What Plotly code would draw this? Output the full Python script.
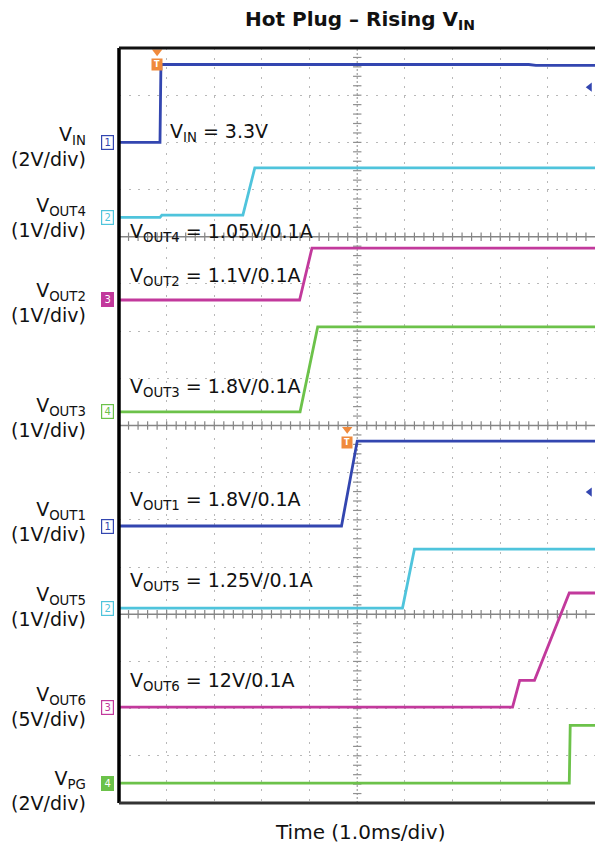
import plotly.graph_objects as go

# ---------------- data (time in ms, voltage in V) ----------------
vin_t = [0, 0.86, 0.88, 8.6, 8.75, 9.99]
vin_v = [0, 0, 3.3, 3.3, 3.26, 3.26]

vout4_t = [0, 0.86, 0.9, 2.6, 2.85, 9.99]
vout4_v = [0, 0, 0.05, 0.05, 1.05, 1.05]

vout2_t = [0, 3.79, 4.05, 9.99]
vout2_v = [0, 0, 1.1, 1.1]

vout3_t = [0, 3.8, 4.17, 9.99]
vout3_v = [0, 0, 1.8, 1.8]

vout1_t = [0, 4.67, 5.0, 9.99]
vout1_v = [0, 0, 1.8, 1.8]

vout5_t = [0, 5.95, 6.2, 9.99]
vout5_v = [0, 0, 1.25, 1.25]

vout6_t = [0, 8.26, 8.41, 8.72, 9.45, 9.99]
vout6_v = [0, 0, 2.85, 2.85, 12.1, 12.1]

vpg_t = [0, 9.45, 9.47, 9.99]
vpg_v = [0, 0, 2.45, 2.45]

names = ["V<sub>IN</sub>", "V<sub>OUT4</sub>", "V<sub>OUT2</sub>", "V<sub>OUT3</sub>",
         "V<sub>OUT1</sub>", "V<sub>OUT5</sub>", "V<sub>OUT6</sub>", "V<sub>PG</sub>"]
scales_txt = ["(2V/div)", "(1V/div)", "(1V/div)", "(1V/div)",
              "(1V/div)", "(1V/div)", "(5V/div)", "(2V/div)"]
volts_per_div = [2, 1, 1, 1, 1, 1, 5, 2]
inline_labels = ["V<sub>IN</sub> = 3.3V", "V<sub>OUT4</sub> = 1.05V/0.1A",
                 "V<sub>OUT2</sub> = 1.1V/0.1A", "V<sub>OUT3</sub> = 1.8V/0.1A",
                 "V<sub>OUT1</sub> = 1.8V/0.1A", "V<sub>OUT5</sub> = 1.25V/0.1A",
                 "V<sub>OUT6</sub> = 12V/0.1A", None]
probe_nums = ["1", "2", "3", "4", "1", "2", "3", "4"]

title_text = "<b>Hot Plug – Rising V<sub>IN</sub></b>"
x_title = "Time (1.0ms/div)"

# ---------------- styling / layout ----------------
BLUE = "#3346b0"
CYAN = "#4fc4dc"
MAG = "#c2399c"
GREEN = "#6cc24a"
ORANGE = "#f08a3c"
colors = [BLUE, CYAN, MAG, GREEN, BLUE, CYAN, MAG, GREEN]
filled = [False, False, True, False, False, False, False, True]
series = [(vin_t, vin_v), (vout4_t, vout4_v), (vout2_t, vout2_v), (vout3_t, vout3_v),
          (vout1_t, vout1_v), (vout5_t, vout5_v), (vout6_t, vout6_v), (vpg_t, vpg_v)]
ground_div = [14.0, 12.41, 10.66, 8.29, 5.87, 4.13, 2.03, 0.42]
label_div = [13.91, 12.41, 10.61, 8.16, 5.96, 4.17, 2.05, 0.27]
inline_pos = [(1.03, 14.2), (0.19, 12.08), (0.19, 11.15), (0.19, 8.81),
              (0.19, 6.41), (0.19, 4.69), (0.19, 2.57), None]

FONT = "DejaVu Sans, Arial, sans-serif"
XMAX = 9.99
W, H = 595, 852
PL, PT, PB = 119, 48, 803
L, T, R, B = PL, PT, 0, H - PB
pw = W - L - R

fig = go.Figure()

# center / separator lines with tick marks
tick_x = [i * 0.2 for i in range(0, 50)]
tick_y = [i * 0.2 for i in range(0, 81)]
for yc in [4, 8, 12]:
    fig.add_shape(type="line", x0=0, x1=XMAX, y0=yc, y1=yc,
                  line=dict(color="#858585", width=1.5), layer="below")
    fig.add_trace(go.Scatter(x=tick_x, y=[yc] * len(tick_x), mode="markers",
                             marker=dict(symbol="line-ns", size=6,
                                         line=dict(color="#858585", width=1.2)),
                             hoverinfo="skip", showlegend=False))
fig.add_shape(type="line", x0=5, x1=5, y0=0, y1=16,
              line=dict(color="#a0a0a0", width=1.2, dash="2px,2px"), layer="below")
fig.add_trace(go.Scatter(x=[5] * len(tick_y), y=tick_y, mode="markers",
                         marker=dict(symbol="line-ew", size=6,
                                     line=dict(color="#909090", width=1.2)),
                         hoverinfo="skip", showlegend=False))

# traces
for (t, v), g, s, c in zip(series, ground_div, volts_per_div, colors):
    fig.add_trace(go.Scatter(x=t, y=[g + vv / s for vv in v], mode="lines",
                             line=dict(color=c, width=2.8), hoverinfo="skip",
                             showlegend=False))

annotations = []

# trigger markers (orange) and level arrows
for tx, ty in [(0.8, 16), (4.79, 8)]:
    fig.add_trace(go.Scatter(x=[tx], y=[ty - 0.08], mode="markers",
                             marker=dict(symbol="triangle-down", size=9, color=ORANGE),
                             hoverinfo="skip", showlegend=False))
    annotations.append(dict(xref="x", yref="y", x=tx, y=ty - 0.36, text="<b>T</b>",
                            showarrow=False, font=dict(size=8, color="white", family=FONT),
                            bgcolor=ORANGE, width=10, height=11, borderpad=0))
for ay in [15.17, 6.59]:
    fig.add_trace(go.Scatter(x=[9.88], y=[ay], mode="markers",
                             marker=dict(symbol="triangle-left", size=8, color=BLUE),
                             hoverinfo="skip", showlegend=False))

for i in range(8):
    # left-hand channel label
    annotations.append(dict(xref="paper", yref="y", x=(88 - PL) / pw, y=label_div[i],
                            xanchor="right", yanchor="middle", align="right",
                            text=names[i] + "<br>" + scales_txt[i], showarrow=False,
                            font=dict(size=19, color="#111", family=FONT)))
    # probe number box
    annotations.append(dict(xref="paper", yref="y", x=(114 - PL) / pw, y=ground_div[i],
                            xanchor="right", yanchor="middle", text=probe_nums[i],
                            showarrow=False, width=11, height=13, borderpad=0,
                            borderwidth=1.2, bordercolor=colors[i],
                            bgcolor=colors[i] if filled[i] else "white",
                            font=dict(size=10, color="white" if filled[i] else colors[i],
                                      family=FONT)))
    if inline_labels[i]:
        px, py = inline_pos[i]
        annotations.append(dict(xref="x", yref="y", x=px, y=py, xanchor="left",
                                yanchor="middle", text=inline_labels[i], showarrow=False,
                                font=dict(size=19, color="#111", family=FONT)))

annotations.append(dict(xref="paper", yref="paper", x=(360 - PL) / pw, y=1,
                        yshift=(PT - 20), xanchor="center", yanchor="middle",
                        text=title_text, showarrow=False,
                        font=dict(size=20, color="#111", family=FONT)))
annotations.append(dict(xref="paper", yref="paper", x=(360 - PL) / pw, y=0,
                        yshift=-(832 - PB), xanchor="center", yanchor="middle",
                        text=x_title, showarrow=False,
                        font=dict(size=20, color="#111", family=FONT)))

# borders
shapes = [
    dict(type="line", xref="paper", yref="paper", x0=0, x1=0, y0=0, y1=1,
         line=dict(color="black", width=3.5)),
    dict(type="line", xref="paper", yref="paper", x0=0, x1=1, y0=1, y1=1,
         line=dict(color="#111", width=3)),
    dict(type="line", xref="paper", yref="paper", x0=0, x1=1, y0=0, y1=0,
         line=dict(color="#333", width=3)),
]
for s in shapes:
    fig.add_shape(**s)

grid_dash = "2px,7.5px"
fig.update_layout(
    width=W, height=H, margin=dict(l=L, r=R, t=T, b=B),
    paper_bgcolor="white", plot_bgcolor="white",
    showlegend=False,
    xaxis=dict(range=[0, XMAX], tickvals=[1, 2, 3, 4, 6, 7, 8, 9], showticklabels=False,
               showgrid=True, gridcolor="#b8b8b8", gridwidth=1.3, griddash=grid_dash,
               zeroline=False, showline=False, ticks="", fixedrange=True),
    yaxis=dict(range=[0, 16], tickvals=[1, 2, 3, 5, 6, 7, 9, 10, 11, 13, 14, 15],
               showticklabels=False, showgrid=True, gridcolor="#b8b8b8", gridwidth=1.3,
               griddash=grid_dash, zeroline=False, showline=False, ticks="",
               fixedrange=True),
)
for a in annotations:
    fig.add_annotation(**a)

fig.write_html(
    "out.html",
    config={"displayModeBar": False},
    post_script="document.body.style.margin='0';document.body.style.overflow='hidden';",
)
